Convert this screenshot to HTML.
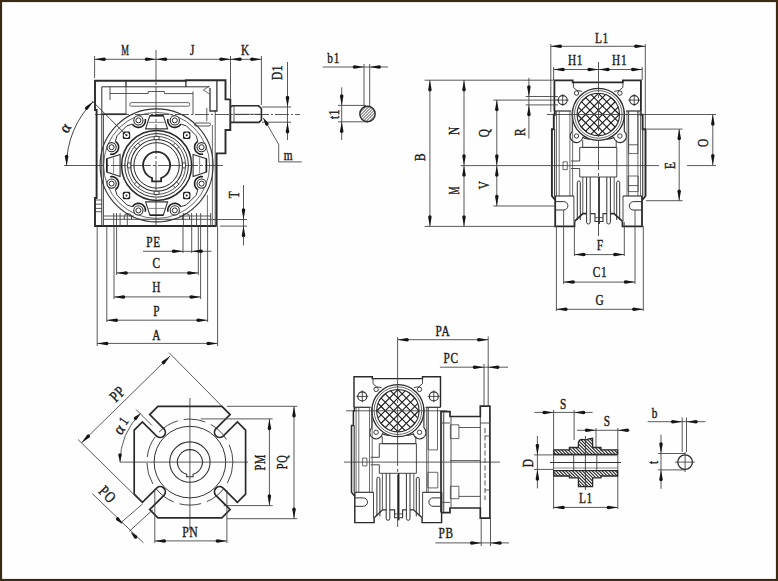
<!DOCTYPE html>
<html><head><meta charset="utf-8"><style>
html,body{margin:0;padding:0;background:#fff;}
svg{display:block;}
</style></head><body>
<svg width="778" height="581" viewBox="0 0 778 581">
<rect x="0" y="0" width="778" height="581" fill="#fefefe"/>
<line x1="156.0" y1="50.0" x2="156.0" y2="227.0" stroke="#3c3c3c" stroke-width="0.85" stroke-dasharray="30,2,3,2"/>
<line x1="64.0" y1="165.5" x2="223.0" y2="165.5" stroke="#3c3c3c" stroke-width="0.85" stroke-dasharray="40,2,3,2"/>
<line x1="95.0" y1="114.5" x2="300.0" y2="114.5" stroke="#3c3c3c" stroke-width="0.85" stroke-dasharray="14,2,2,2"/>
<polyline points="216.6,226.0 216.6,153.4 225.5,153.4 225.5,130.0 230.3,130.0 230.3,99.4 225.5,99.4 225.5,80.2 185.9,80.2 185.9,80.8 95.0,80.8 95.0,110.0 96.6,110.0 96.6,198.0 95.0,198.0 95.0,226.0 216.6,226.0" fill="none" stroke="#2a2a2a" stroke-width="1.9" stroke-linejoin="miter"/>
<line x1="185.9" y1="80.5" x2="185.9" y2="87.0" stroke="#2a2a2a" stroke-width="1.3"/>
<line x1="126.0" y1="80.5" x2="126.0" y2="87.0" stroke="#2a2a2a" stroke-width="1.3"/>
<polyline points="101.8,226.0 101.8,86.8 209.5,86.8" fill="none" stroke="#333" stroke-width="1.0" stroke-linejoin="miter"/>
<polyline points="216.9,80.5 216.9,111.0 210.0,111.0 210.0,88.0" fill="none" stroke="#333" stroke-width="1.3" stroke-linejoin="miter"/>
<line x1="110.0" y1="86.8" x2="110.0" y2="100.0" stroke="#3c3c3c" stroke-width="0.9"/>
<polyline points="110.0,93.5 148.2,93.5 148.2,91.5 164.4,91.5 164.4,93.6 193.0,93.6" fill="none" stroke="#444" stroke-width="0.9" stroke-linejoin="miter"/>
<line x1="193.0" y1="91.5" x2="193.0" y2="114.6" stroke="#3c3c3c" stroke-width="0.85"/>
<line x1="126.0" y1="86.8" x2="126.0" y2="114.2" stroke="#3c3c3c" stroke-width="0.85"/>
<path d="M131.5,102.6 L188,102.6 A1.8,1.8 0 0 1 188,106.2 L131.5,106.2 A1.8,1.8 0 0 1 131.5,102.6 Z" fill="none" stroke="#444" stroke-width="0.8"/>
<polyline points="209.5,86.0 203.5,90.0 209.5,94.0" fill="none" stroke="#444" stroke-width="0.8" stroke-linejoin="miter"/>
<line x1="103.5" y1="114.0" x2="103.5" y2="226.0" stroke="#3c3c3c" stroke-width="0.85"/>
<line x1="215.2" y1="110.0" x2="215.2" y2="226.0" stroke="#3c3c3c" stroke-width="0.85"/>
<line x1="212.4" y1="125.0" x2="212.4" y2="226.0" stroke="#555" stroke-width="0.85"/>
<line x1="207.4" y1="195.0" x2="207.4" y2="226.0" stroke="#555" stroke-width="0.85"/>
<line x1="206.8" y1="108.0" x2="206.8" y2="121.2" stroke="#3c3c3c" stroke-width="0.85"/>
<line x1="101.8" y1="114.2" x2="126.0" y2="114.2" stroke="#333" stroke-width="1.8"/>
<line x1="95.0" y1="200.0" x2="102.0" y2="200.0" stroke="#3c3c3c" stroke-width="0.85"/>
<line x1="95.0" y1="204.2" x2="102.0" y2="204.2" stroke="#3c3c3c" stroke-width="0.85"/>
<line x1="95.0" y1="208.4" x2="102.0" y2="208.4" stroke="#3c3c3c" stroke-width="0.85"/>
<line x1="95.0" y1="211.7" x2="102.0" y2="211.7" stroke="#3c3c3c" stroke-width="0.85"/>
<line x1="127.3" y1="219.3" x2="186.0" y2="219.3" stroke="#333" stroke-width="0.9"/>
<line x1="103.5" y1="219.3" x2="127.3" y2="219.3" stroke="#3c3c3c" stroke-width="0.85"/>
<line x1="186.0" y1="219.3" x2="212.0" y2="219.3" stroke="#3c3c3c" stroke-width="0.85"/>
<path d="M124.3,219.3 L124.3,216.5 Q124.3,213.7 127.9,213.7 Q131.5,213.7 131.5,216.5 L131.5,219.3" fill="none" stroke="#333" stroke-width="0.9"/>
<path d="M182.4,219.3 L182.4,216.5 Q182.4,213.7 186,213.7 Q189.5,213.7 189.5,216.5 L189.5,219.3" fill="none" stroke="#333" stroke-width="0.9"/>
<line x1="113.7" y1="213.0" x2="113.7" y2="226.0" stroke="#3c3c3c" stroke-width="0.85"/>
<line x1="116.5" y1="213.0" x2="116.5" y2="226.0" stroke="#3c3c3c" stroke-width="0.85"/>
<line x1="120.1" y1="213.0" x2="120.1" y2="226.0" stroke="#3c3c3c" stroke-width="0.85"/>
<line x1="127.3" y1="213.0" x2="127.3" y2="226.0" stroke="#3c3c3c" stroke-width="0.85"/>
<line x1="183.4" y1="213.0" x2="183.4" y2="226.0" stroke="#3c3c3c" stroke-width="0.85"/>
<line x1="191.6" y1="213.0" x2="191.6" y2="226.0" stroke="#3c3c3c" stroke-width="0.85"/>
<line x1="196.5" y1="213.0" x2="196.5" y2="226.0" stroke="#3c3c3c" stroke-width="0.85"/>
<line x1="200.7" y1="213.0" x2="200.7" y2="226.0" stroke="#3c3c3c" stroke-width="0.85"/>
<line x1="210.7" y1="213.0" x2="210.7" y2="226.0" stroke="#3c3c3c" stroke-width="0.85"/>
<line x1="104.0" y1="216.0" x2="134.0" y2="216.0" stroke="#3c3c3c" stroke-width="0.85"/>
<line x1="179.0" y1="216.0" x2="211.0" y2="216.0" stroke="#3c3c3c" stroke-width="0.85"/>
<path d="M196,123 L209,123 A1.5,1.5 0 0 1 209,126 L196,126 A1.5,1.5 0 0 1 196,123 Z" fill="none" stroke="#444" stroke-width="0.9"/>
<polyline points="230.3,107.2 232.4,105.8 258.5,105.8 261.4,108.5 261.4,120.0 259.0,122.4 230.3,122.4" fill="none" stroke="#2a2a2a" stroke-width="1.6" stroke-linejoin="miter"/>
<line x1="234.0" y1="106.0" x2="234.0" y2="122.4" stroke="#3c3c3c" stroke-width="0.85"/>
<line x1="234.0" y1="114.3" x2="261.0" y2="114.3" stroke="#3c3c3c" stroke-width="0.85"/>
<circle cx="156.6" cy="165.4" r="56.5" fill="none" stroke="#333" stroke-width="1.1"/>
<circle cx="156.6" cy="165.4" r="53.0" fill="none" stroke="#444" stroke-width="0.8"/>
<circle cx="156.6" cy="165.4" r="35.0" fill="none" stroke="#2a2a2a" stroke-width="1.5"/>
<circle cx="156.6" cy="165.4" r="31.8" fill="none" stroke="#2a2a2a" stroke-width="1.0"/>
<circle cx="156.6" cy="165.4" r="29.0" fill="none" stroke="#2a2a2a" stroke-width="0.8"/>
<circle cx="156.6" cy="165.4" r="25.9" fill="none" stroke="#2a2a2a" stroke-width="1.1"/>
<circle cx="156.6" cy="165.4" r="22.7" fill="none" stroke="#2a2a2a" stroke-width="1.0"/>
<polygon points="182.5,162.9 185.6,162.9 185.6,167.9 182.5,167.9" fill="#fff" stroke="#333" stroke-width="0.9" stroke-linejoin="miter"/>
<polygon points="176.7,181.9 178.9,184.1 175.3,187.7 173.1,185.5" fill="#fff" stroke="#333" stroke-width="0.9" stroke-linejoin="miter"/>
<polygon points="159.1,191.3 159.1,194.4 154.1,194.4 154.1,191.3" fill="#fff" stroke="#333" stroke-width="0.9" stroke-linejoin="miter"/>
<polygon points="140.1,185.5 137.9,187.7 134.3,184.1 136.5,181.9" fill="#fff" stroke="#333" stroke-width="0.9" stroke-linejoin="miter"/>
<polygon points="130.7,167.9 127.6,167.9 127.6,162.9 130.7,162.9" fill="#fff" stroke="#333" stroke-width="0.9" stroke-linejoin="miter"/>
<polygon points="136.5,148.9 134.3,146.7 137.9,143.1 140.1,145.3" fill="#fff" stroke="#333" stroke-width="0.9" stroke-linejoin="miter"/>
<polygon points="154.1,139.5 154.1,136.4 159.1,136.4 159.1,139.5" fill="#fff" stroke="#333" stroke-width="0.9" stroke-linejoin="miter"/>
<polygon points="173.1,145.3 175.3,143.1 178.9,146.7 176.7,148.9" fill="#fff" stroke="#333" stroke-width="0.9" stroke-linejoin="miter"/>
<path d="M152.1,178.1 A13.5,13.5 0 1 1 161.1,178.1 L161.1,181.4 L152.1,181.4 Z" fill="none" stroke="#2a2a2a" stroke-width="1.8"/>
<polygon points="145.6,128.9 149.9,115.6 163.3,115.6 167.6,128.9" fill="none" stroke="#333" stroke-width="1.1" stroke-linejoin="miter"/>
<polyline points="148.6,122.4 164.6,122.4" fill="none" stroke="#555" stroke-width="0.7" stroke-linejoin="miter"/>
<line x1="149.9" y1="115.6" x2="163.3" y2="115.6" stroke="#222" stroke-width="1.6"/>
<polygon points="193.1,154.4 206.4,158.7 206.4,172.1 193.1,176.4" fill="none" stroke="#333" stroke-width="1.1" stroke-linejoin="miter"/>
<polyline points="199.6,157.4 199.6,173.4" fill="none" stroke="#555" stroke-width="0.7" stroke-linejoin="miter"/>
<line x1="206.4" y1="158.7" x2="206.4" y2="172.1" stroke="#222" stroke-width="1.6"/>
<polygon points="167.6,201.9 163.3,215.2 149.9,215.2 145.6,201.9" fill="none" stroke="#333" stroke-width="1.1" stroke-linejoin="miter"/>
<polyline points="164.6,208.4 148.6,208.4" fill="none" stroke="#555" stroke-width="0.7" stroke-linejoin="miter"/>
<line x1="163.3" y1="215.2" x2="149.9" y2="215.2" stroke="#222" stroke-width="1.6"/>
<polygon points="120.1,176.4 106.8,172.1 106.8,158.7 120.1,154.4" fill="none" stroke="#333" stroke-width="1.1" stroke-linejoin="miter"/>
<polyline points="113.6,173.4 113.6,157.4" fill="none" stroke="#555" stroke-width="0.7" stroke-linejoin="miter"/>
<line x1="106.8" y1="172.1" x2="106.8" y2="158.7" stroke="#222" stroke-width="1.6"/>
<polyline points="145.3,119.0 145.4,120.2 145.4,121.4 145.1,122.6 144.6,123.7 143.9,124.7 143.1,125.6 142.1,126.4 141.1,126.9 139.9,127.3 138.7,127.4 137.5,127.4 136.3,127.1 135.1,126.6 134.1,125.9 133.2,125.1 132.5,124.1" fill="none" stroke="#1e1e1e" stroke-width="1.6" stroke-linejoin="miter"/>
<polyline points="180.7,124.1 180.0,125.1 179.1,125.9 178.1,126.6 176.9,127.1 175.7,127.4 174.5,127.4 173.3,127.3 172.1,126.9 171.1,126.4 170.1,125.6 169.3,124.7 168.6,123.7 168.1,122.6 167.8,121.4 167.8,120.2 167.9,119.0" fill="none" stroke="#1e1e1e" stroke-width="1.6" stroke-linejoin="miter"/>
<polyline points="203.0,154.1 201.8,154.2 200.6,154.2 199.4,153.9 198.3,153.4 197.3,152.7 196.4,151.9 195.6,150.9 195.1,149.9 194.7,148.7 194.6,147.5 194.6,146.3 194.9,145.1 195.4,143.9 196.1,142.9 196.9,142.0 197.9,141.3" fill="none" stroke="#1e1e1e" stroke-width="1.6" stroke-linejoin="miter"/>
<polyline points="197.9,189.5 196.9,188.8 196.1,187.9 195.4,186.9 194.9,185.7 194.6,184.5 194.6,183.3 194.7,182.1 195.1,180.9 195.6,179.9 196.4,178.9 197.3,178.1 198.3,177.4 199.4,176.9 200.6,176.6 201.8,176.6 203.0,176.7" fill="none" stroke="#1e1e1e" stroke-width="1.6" stroke-linejoin="miter"/>
<polyline points="167.9,211.8 167.8,210.6 167.8,209.4 168.1,208.2 168.6,207.1 169.3,206.1 170.1,205.2 171.1,204.4 172.1,203.9 173.3,203.5 174.5,203.4 175.7,203.4 176.9,203.7 178.1,204.2 179.1,204.9 180.0,205.7 180.7,206.7" fill="none" stroke="#1e1e1e" stroke-width="1.6" stroke-linejoin="miter"/>
<polyline points="132.5,206.7 133.2,205.7 134.1,204.9 135.1,204.2 136.3,203.7 137.5,203.4 138.7,203.4 139.9,203.5 141.1,203.9 142.1,204.4 143.1,205.2 143.9,206.1 144.6,207.1 145.1,208.2 145.4,209.4 145.4,210.6 145.3,211.8" fill="none" stroke="#1e1e1e" stroke-width="1.6" stroke-linejoin="miter"/>
<polyline points="110.2,176.7 111.4,176.6 112.6,176.6 113.8,176.9 114.9,177.4 115.9,178.1 116.8,178.9 117.6,179.9 118.1,180.9 118.5,182.1 118.6,183.3 118.6,184.5 118.3,185.7 117.8,186.9 117.1,187.9 116.3,188.8 115.3,189.5" fill="none" stroke="#1e1e1e" stroke-width="1.6" stroke-linejoin="miter"/>
<polyline points="115.3,141.3 116.3,142.0 117.1,142.9 117.8,143.9 118.3,145.1 118.6,146.3 118.6,147.5 118.5,148.7 118.1,149.9 117.6,150.9 116.8,151.9 115.9,152.7 114.9,153.4 113.8,153.9 112.6,154.2 111.4,154.2 110.2,154.1" fill="none" stroke="#1e1e1e" stroke-width="1.6" stroke-linejoin="miter"/>
<polyline points="180.7,124.1 186.4,125.9 196.1,135.6 197.9,141.3" fill="none" stroke="#333" stroke-width="1.0" stroke-linejoin="miter"/>
<polyline points="197.9,189.5 196.1,195.2 186.4,204.9 180.7,206.7" fill="none" stroke="#333" stroke-width="1.0" stroke-linejoin="miter"/>
<polyline points="132.5,206.7 126.8,204.9 117.1,195.2 115.3,189.5" fill="none" stroke="#333" stroke-width="1.0" stroke-linejoin="miter"/>
<polyline points="115.3,141.3 117.1,135.6 126.8,125.9 132.5,124.1" fill="none" stroke="#333" stroke-width="1.0" stroke-linejoin="miter"/>
<circle cx="138.4" cy="120.4" r="4.6" fill="#fff" stroke="#2a2a2a" stroke-width="1.1"/>
<circle cx="138.4" cy="120.4" r="2.5" fill="none" stroke="#2a2a2a" stroke-width="1.0"/>
<circle cx="174.8" cy="120.4" r="4.6" fill="#fff" stroke="#2a2a2a" stroke-width="1.1"/>
<circle cx="174.8" cy="120.4" r="2.5" fill="none" stroke="#2a2a2a" stroke-width="1.0"/>
<circle cx="201.6" cy="147.2" r="4.6" fill="#fff" stroke="#2a2a2a" stroke-width="1.1"/>
<circle cx="201.6" cy="147.2" r="2.5" fill="none" stroke="#2a2a2a" stroke-width="1.0"/>
<circle cx="201.6" cy="183.6" r="4.6" fill="#fff" stroke="#2a2a2a" stroke-width="1.1"/>
<circle cx="201.6" cy="183.6" r="2.5" fill="none" stroke="#2a2a2a" stroke-width="1.0"/>
<circle cx="174.8" cy="210.4" r="4.6" fill="#fff" stroke="#2a2a2a" stroke-width="1.1"/>
<circle cx="174.8" cy="210.4" r="2.5" fill="none" stroke="#2a2a2a" stroke-width="1.0"/>
<circle cx="138.4" cy="210.4" r="4.6" fill="#fff" stroke="#2a2a2a" stroke-width="1.1"/>
<circle cx="138.4" cy="210.4" r="2.5" fill="none" stroke="#2a2a2a" stroke-width="1.0"/>
<circle cx="111.6" cy="183.6" r="4.6" fill="#fff" stroke="#2a2a2a" stroke-width="1.1"/>
<circle cx="111.6" cy="183.6" r="2.5" fill="none" stroke="#2a2a2a" stroke-width="1.0"/>
<circle cx="111.6" cy="147.2" r="4.6" fill="#fff" stroke="#2a2a2a" stroke-width="1.1"/>
<circle cx="111.6" cy="147.2" r="2.5" fill="none" stroke="#2a2a2a" stroke-width="1.0"/>
<rect x="122.8" y="131.6" width="7.4" height="7.4" rx="1.5" fill="#1e1e1e"/>
<circle cx="126.5" cy="135.3" r="2.7" fill="#fff" stroke="#fff" stroke-width="0.0"/>
<circle cx="126.5" cy="135.3" r="1.0" fill="#222" stroke="#222" stroke-width="0"/>
<rect x="183.0" y="131.6" width="7.4" height="7.4" rx="1.5" fill="#1e1e1e"/>
<circle cx="186.7" cy="135.3" r="2.7" fill="#fff" stroke="#fff" stroke-width="0.0"/>
<circle cx="186.7" cy="135.3" r="1.0" fill="#222" stroke="#222" stroke-width="0"/>
<rect x="122.8" y="191.8" width="7.4" height="7.4" rx="1.5" fill="#1e1e1e"/>
<circle cx="126.5" cy="195.5" r="2.7" fill="#fff" stroke="#fff" stroke-width="0.0"/>
<circle cx="126.5" cy="195.5" r="1.0" fill="#222" stroke="#222" stroke-width="0"/>
<rect x="183.0" y="191.8" width="7.4" height="7.4" rx="1.5" fill="#1e1e1e"/>
<circle cx="186.7" cy="195.5" r="2.7" fill="#fff" stroke="#fff" stroke-width="0.0"/>
<circle cx="186.7" cy="195.5" r="1.0" fill="#222" stroke="#222" stroke-width="0"/>
<line x1="92.0" y1="100.8" x2="126.6" y2="135.4" stroke="#333" stroke-width="0.9"/>
<path d="M93.0,101.8 A90,90 0 0 0 66.6,165.4" fill="none" stroke="#333" stroke-width="0.9"/>
<path d="M92.96,101.76 L87.83,109.36 A1.75,1.75 0 0 1 85.36,106.89 Z" fill="#151515"/>
<path d="M66.60,165.40 L64.85,156.40 A1.75,1.75 0 0 1 68.35,156.40 Z" fill="#151515"/>
<text transform="translate(65.2,127.5) rotate(-60) scale(0.95,1)" x="0" y="5.3" text-anchor="middle" letter-spacing="0.9" font-family="Liberation Serif" font-size="16" font-weight="normal" fill="#1a1a1a" stroke="#1a1a1a" stroke-width="0.4">&#945;</text>
<line x1="94.6" y1="56.0" x2="94.6" y2="78.0" stroke="#3c3c3c" stroke-width="0.85"/>
<line x1="230.5" y1="56.0" x2="230.5" y2="98.0" stroke="#3c3c3c" stroke-width="0.85"/>
<line x1="261.4" y1="56.0" x2="261.4" y2="105.0" stroke="#3c3c3c" stroke-width="0.85"/>
<line x1="94.6" y1="59.3" x2="261.4" y2="59.3" stroke="#3c3c3c" stroke-width="0.85"/>
<path d="M94.60,59.30 L104.10,57.55 A1.75,1.75 0 0 1 104.10,61.05 Z" fill="#151515"/>
<path d="M156.00,59.30 L146.50,61.05 A1.75,1.75 0 0 1 146.50,57.55 Z" fill="#151515"/>
<path d="M156.00,59.30 L165.50,57.55 A1.75,1.75 0 0 1 165.50,61.05 Z" fill="#151515"/>
<path d="M230.50,59.30 L221.00,61.05 A1.75,1.75 0 0 1 221.00,57.55 Z" fill="#151515"/>
<path d="M230.50,59.30 L240.00,57.55 A1.75,1.75 0 0 1 240.00,61.05 Z" fill="#151515"/>
<path d="M261.40,59.30 L251.90,61.05 A1.75,1.75 0 0 1 251.90,57.55 Z" fill="#151515"/>
<text transform="translate(125.5,50.0) rotate(0) scale(0.6,1)" x="0" y="4.8" text-anchor="middle" letter-spacing="0.9" font-family="Liberation Serif" font-size="14.5" font-weight="normal" fill="#1a1a1a" stroke="#1a1a1a" stroke-width="0.4">M</text>
<text transform="translate(192.5,50.0) rotate(0) scale(0.78,1)" x="0" y="4.8" text-anchor="middle" letter-spacing="0.9" font-family="Liberation Serif" font-size="14.5" font-weight="normal" fill="#1a1a1a" stroke="#1a1a1a" stroke-width="0.4">J</text>
<text transform="translate(245.5,50.0) rotate(0) scale(0.78,1)" x="0" y="4.8" text-anchor="middle" letter-spacing="0.9" font-family="Liberation Serif" font-size="14.5" font-weight="normal" fill="#1a1a1a" stroke="#1a1a1a" stroke-width="0.4">K</text>
<line x1="287.5" y1="62.0" x2="287.5" y2="140.0" stroke="#3c3c3c" stroke-width="0.85"/>
<line x1="262.0" y1="107.0" x2="291.0" y2="107.0" stroke="#3c3c3c" stroke-width="0.85"/>
<line x1="262.0" y1="122.2" x2="291.0" y2="122.2" stroke="#3c3c3c" stroke-width="0.85"/>
<path d="M287.50,107.00 L285.75,97.50 A1.75,1.75 0 0 1 289.25,97.50 Z" fill="#151515"/>
<path d="M287.50,122.20 L289.25,131.70 A1.75,1.75 0 0 1 285.75,131.70 Z" fill="#151515"/>
<text transform="translate(277.5,72.5) rotate(-90) scale(0.78,1)" x="0" y="4.8" text-anchor="middle" letter-spacing="0.9" font-family="Liberation Serif" font-size="14.5" font-weight="normal" fill="#1a1a1a" stroke="#1a1a1a" stroke-width="0.4">D1</text>
<polyline points="263.3,117.9 278.7,144.4 278.7,161.9 301.8,161.9" fill="none" stroke="#333" stroke-width="0.8" stroke-linejoin="miter"/>
<path d="M263.30,117.90 L268.37,123.05 A1.8,1.8 0 0 1 265.26,124.86 Z" fill="#151515"/>
<text transform="translate(288.5,155.5) rotate(0) scale(0.78,1)" x="0" y="4.8" text-anchor="middle" letter-spacing="0.9" font-family="Liberation Serif" font-size="14.5" font-weight="normal" fill="#1a1a1a" stroke="#1a1a1a" stroke-width="0.4">m</text>
<line x1="243.5" y1="185.0" x2="243.5" y2="245.4" stroke="#3c3c3c" stroke-width="0.85"/>
<line x1="213.0" y1="219.5" x2="247.0" y2="219.5" stroke="#3c3c3c" stroke-width="0.85"/>
<line x1="220.0" y1="226.1" x2="247.0" y2="226.1" stroke="#3c3c3c" stroke-width="0.85"/>
<path d="M243.50,219.50 L241.75,210.00 A1.75,1.75 0 0 1 245.25,210.00 Z" fill="#151515"/>
<path d="M243.50,226.10 L245.25,235.60 A1.75,1.75 0 0 1 241.75,235.60 Z" fill="#151515"/>
<text transform="translate(234.0,194.5) rotate(-90) scale(0.78,1)" x="0" y="4.8" text-anchor="middle" letter-spacing="0.9" font-family="Liberation Serif" font-size="14.5" font-weight="normal" fill="#1a1a1a" stroke="#1a1a1a" stroke-width="0.4">T</text>
<line x1="97.2" y1="226.0" x2="97.2" y2="346.0" stroke="#3c3c3c" stroke-width="0.85"/>
<line x1="106.8" y1="226.0" x2="106.8" y2="322.0" stroke="#3c3c3c" stroke-width="0.85"/>
<line x1="114.0" y1="226.0" x2="114.0" y2="299.0" stroke="#3c3c3c" stroke-width="0.85"/>
<line x1="116.6" y1="226.0" x2="116.6" y2="275.0" stroke="#3c3c3c" stroke-width="0.85"/>
<line x1="183.0" y1="226.0" x2="183.0" y2="253.0" stroke="#3c3c3c" stroke-width="0.85"/>
<line x1="191.7" y1="226.0" x2="191.7" y2="253.0" stroke="#3c3c3c" stroke-width="0.85"/>
<line x1="198.3" y1="226.0" x2="198.3" y2="275.0" stroke="#3c3c3c" stroke-width="0.85"/>
<line x1="200.6" y1="226.0" x2="200.6" y2="299.0" stroke="#3c3c3c" stroke-width="0.85"/>
<line x1="207.6" y1="226.0" x2="207.6" y2="322.0" stroke="#3c3c3c" stroke-width="0.85"/>
<line x1="217.6" y1="226.0" x2="217.6" y2="346.0" stroke="#3c3c3c" stroke-width="0.85"/>
<line x1="143.0" y1="251.3" x2="211.4" y2="251.3" stroke="#3c3c3c" stroke-width="0.85"/>
<path d="M183.00,251.30 L173.50,253.05 A1.75,1.75 0 0 1 173.50,249.55 Z" fill="#151515"/>
<path d="M191.70,251.30 L201.20,249.55 A1.75,1.75 0 0 1 201.20,253.05 Z" fill="#151515"/>
<text transform="translate(153.5,242.3) rotate(0) scale(0.78,1)" x="0" y="4.8" text-anchor="middle" letter-spacing="0.9" font-family="Liberation Serif" font-size="14.5" font-weight="normal" fill="#1a1a1a" stroke="#1a1a1a" stroke-width="0.4">PE</text>
<line x1="116.6" y1="272.9" x2="198.3" y2="272.9" stroke="#3c3c3c" stroke-width="0.85"/>
<path d="M116.60,272.90 L126.10,271.15 A1.75,1.75 0 0 1 126.10,274.65 Z" fill="#151515"/>
<path d="M198.30,272.90 L188.80,274.65 A1.75,1.75 0 0 1 188.80,271.15 Z" fill="#151515"/>
<text transform="translate(156.7,263.3) rotate(0) scale(0.78,1)" x="0" y="4.8" text-anchor="middle" letter-spacing="0.9" font-family="Liberation Serif" font-size="14.5" font-weight="normal" fill="#1a1a1a" stroke="#1a1a1a" stroke-width="0.4">C</text>
<line x1="114.0" y1="296.9" x2="200.6" y2="296.9" stroke="#3c3c3c" stroke-width="0.85"/>
<path d="M114.00,296.90 L123.50,295.15 A1.75,1.75 0 0 1 123.50,298.65 Z" fill="#151515"/>
<path d="M200.60,296.90 L191.10,298.65 A1.75,1.75 0 0 1 191.10,295.15 Z" fill="#151515"/>
<text transform="translate(156.7,286.8) rotate(0) scale(0.78,1)" x="0" y="4.8" text-anchor="middle" letter-spacing="0.9" font-family="Liberation Serif" font-size="14.5" font-weight="normal" fill="#1a1a1a" stroke="#1a1a1a" stroke-width="0.4">H</text>
<line x1="106.8" y1="320.2" x2="207.6" y2="320.2" stroke="#3c3c3c" stroke-width="0.85"/>
<path d="M106.80,320.20 L116.30,318.45 A1.75,1.75 0 0 1 116.30,321.95 Z" fill="#151515"/>
<path d="M207.60,320.20 L198.10,321.95 A1.75,1.75 0 0 1 198.10,318.45 Z" fill="#151515"/>
<text transform="translate(156.7,311.0) rotate(0) scale(0.78,1)" x="0" y="4.8" text-anchor="middle" letter-spacing="0.9" font-family="Liberation Serif" font-size="14.5" font-weight="normal" fill="#1a1a1a" stroke="#1a1a1a" stroke-width="0.4">P</text>
<line x1="97.2" y1="343.4" x2="217.6" y2="343.4" stroke="#3c3c3c" stroke-width="0.85"/>
<path d="M97.20,343.40 L106.70,341.65 A1.75,1.75 0 0 1 106.70,345.15 Z" fill="#151515"/>
<path d="M217.60,343.40 L208.10,345.15 A1.75,1.75 0 0 1 208.10,341.65 Z" fill="#151515"/>
<text transform="translate(156.7,335.0) rotate(0) scale(0.78,1)" x="0" y="4.8" text-anchor="middle" letter-spacing="0.9" font-family="Liberation Serif" font-size="14.5" font-weight="normal" fill="#1a1a1a" stroke="#1a1a1a" stroke-width="0.4">A</text>
<line x1="322.7" y1="67.0" x2="388.0" y2="67.0" stroke="#3c3c3c" stroke-width="0.85"/>
<path d="M364.00,67.00 L354.50,68.75 A1.75,1.75 0 0 1 354.50,65.25 Z" fill="#151515"/>
<path d="M369.70,67.00 L379.20,65.25 A1.75,1.75 0 0 1 379.20,68.75 Z" fill="#151515"/>
<line x1="364.0" y1="64.0" x2="364.0" y2="106.0" stroke="#3c3c3c" stroke-width="0.85"/>
<line x1="369.7" y1="64.0" x2="369.7" y2="106.0" stroke="#3c3c3c" stroke-width="0.85"/>
<text transform="translate(333.7,58.5) rotate(0) scale(0.78,1)" x="0" y="4.8" text-anchor="middle" letter-spacing="0.9" font-family="Liberation Serif" font-size="14.5" font-weight="normal" fill="#1a1a1a" stroke="#1a1a1a" stroke-width="0.4">b1</text>
<line x1="341.7" y1="87.3" x2="341.7" y2="140.0" stroke="#3c3c3c" stroke-width="0.85"/>
<path d="M341.70,105.40 L339.95,95.90 A1.75,1.75 0 0 1 343.45,95.90 Z" fill="#151515"/>
<path d="M341.70,121.80 L343.45,131.30 A1.75,1.75 0 0 1 339.95,131.30 Z" fill="#151515"/>
<line x1="338.0" y1="105.4" x2="366.0" y2="105.4" stroke="#3c3c3c" stroke-width="0.85"/>
<line x1="338.0" y1="121.8" x2="368.0" y2="121.8" stroke="#3c3c3c" stroke-width="0.85"/>
<text transform="translate(334.0,114.0) rotate(-90) scale(0.78,1)" x="0" y="4.8" text-anchor="middle" letter-spacing="0.9" font-family="Liberation Serif" font-size="14.5" font-weight="normal" fill="#1a1a1a" stroke="#1a1a1a" stroke-width="0.4">t1</text>
<clipPath id="cpb1"><circle cx="367.5" cy="114" r="7.7"/></clipPath>
<g clip-path="url(#cpb1)"><line x1="339.5" y1="124" x2="359.5" y2="104" stroke="#333" stroke-width="0.9"/><line x1="342.5" y1="124" x2="362.5" y2="104" stroke="#333" stroke-width="0.9"/><line x1="345.5" y1="124" x2="365.5" y2="104" stroke="#333" stroke-width="0.9"/><line x1="348.5" y1="124" x2="368.5" y2="104" stroke="#333" stroke-width="0.9"/><line x1="351.5" y1="124" x2="371.5" y2="104" stroke="#333" stroke-width="0.9"/><line x1="354.5" y1="124" x2="374.5" y2="104" stroke="#333" stroke-width="0.9"/><line x1="357.5" y1="124" x2="377.5" y2="104" stroke="#333" stroke-width="0.9"/><line x1="360.5" y1="124" x2="380.5" y2="104" stroke="#333" stroke-width="0.9"/><line x1="363.5" y1="124" x2="383.5" y2="104" stroke="#333" stroke-width="0.9"/><line x1="366.5" y1="124" x2="386.5" y2="104" stroke="#333" stroke-width="0.9"/><line x1="369.5" y1="124" x2="389.5" y2="104" stroke="#333" stroke-width="0.9"/><line x1="372.5" y1="124" x2="392.5" y2="104" stroke="#333" stroke-width="0.9"/><line x1="375.5" y1="124" x2="395.5" y2="104" stroke="#333" stroke-width="0.9"/></g>
<circle cx="367.5" cy="114.0" r="7.7" fill="none" stroke="#2a2a2a" stroke-width="1.4"/>
<polyline points="554.4,111.0 554.4,80.4 572.7,80.4 572.7,82.3 622.9,82.3 622.9,80.4 640.9,80.4 640.9,111.0" fill="none" stroke="#2a2a2a" stroke-width="1.8" stroke-linejoin="miter"/>
<line x1="554.4" y1="111.0" x2="571.0" y2="111.0" stroke="#2a2a2a" stroke-width="1.2"/>
<line x1="626.0" y1="111.0" x2="640.9" y2="111.0" stroke="#2a2a2a" stroke-width="1.2"/>
<path d="M573.4,82.3 L573.4,87.4 Q576,91.4 582,91.4" fill="none" stroke="#333" stroke-width="0.9"/>
<path d="M622.9,82.3 L622.9,87.4 Q620,91.4 614.2,91.4" fill="none" stroke="#333" stroke-width="0.9"/>
<circle cx="576.5" cy="93.1" r="2.2" fill="none" stroke="#2a2a2a" stroke-width="0.9"/>
<circle cx="619.9" cy="93.1" r="2.2" fill="none" stroke="#2a2a2a" stroke-width="0.9"/>
<circle cx="562.7" cy="100.1" r="4.5" fill="none" stroke="#2a2a2a" stroke-width="1.1"/>
<line x1="556.7" y1="100.1" x2="568.7" y2="100.1" stroke="#333" stroke-width="0.85"/>
<line x1="562.7" y1="94.0" x2="562.7" y2="106.0" stroke="#333" stroke-width="0.85"/>
<circle cx="634.2" cy="100.1" r="4.5" fill="none" stroke="#2a2a2a" stroke-width="1.1"/>
<line x1="628.2" y1="100.1" x2="640.2" y2="100.1" stroke="#333" stroke-width="0.85"/>
<line x1="634.2" y1="94.0" x2="634.2" y2="106.0" stroke="#333" stroke-width="0.85"/>
<path d="M572.3,111.0 L572.3,131.4 A6.4,6.4 0 1 0 582.8,137.5 Q585.5,139.2 590.0,139.2" fill="none" stroke="#2a2a2a" stroke-width="1.1"/>
<path d="M624.3,111.0 L624.3,131.4 A6.4,6.4 0 1 1 613.8,137.5 Q611.1,139.2 606.6,139.2" fill="none" stroke="#2a2a2a" stroke-width="1.1"/>
<circle cx="576.5" cy="136.0" r="2.2" fill="none" stroke="#2a2a2a" stroke-width="0.9"/>
<circle cx="619.9" cy="136.0" r="2.2" fill="none" stroke="#2a2a2a" stroke-width="0.9"/>
<circle cx="598.3" cy="114.4" r="26.0" fill="#fff" stroke="#2a2a2a" stroke-width="1.3"/>
<circle cx="598.3" cy="114.4" r="23.8" fill="none" stroke="#444" stroke-width="0.8"/>
<clipPath id="cp00"><circle cx="598.3" cy="114.4" r="21.3"/></clipPath>
<g clip-path="url(#cp00)"><line x1="522.1" y1="144.4" x2="582.1" y2="84.4" stroke="#1a1a1a" stroke-width="1.1"/><line x1="522.1" y1="84.4" x2="582.1" y2="144.4" stroke="#1a1a1a" stroke-width="1.1"/><line x1="530.5" y1="144.4" x2="590.5" y2="84.4" stroke="#1a1a1a" stroke-width="1.1"/><line x1="530.5" y1="84.4" x2="590.5" y2="144.4" stroke="#1a1a1a" stroke-width="1.1"/><line x1="538.9" y1="144.4" x2="598.9" y2="84.4" stroke="#1a1a1a" stroke-width="1.1"/><line x1="538.9" y1="84.4" x2="598.9" y2="144.4" stroke="#1a1a1a" stroke-width="1.1"/><line x1="547.3" y1="144.4" x2="607.3" y2="84.4" stroke="#1a1a1a" stroke-width="1.1"/><line x1="547.3" y1="84.4" x2="607.3" y2="144.4" stroke="#1a1a1a" stroke-width="1.1"/><line x1="555.7" y1="144.4" x2="615.7" y2="84.4" stroke="#1a1a1a" stroke-width="1.1"/><line x1="555.7" y1="84.4" x2="615.7" y2="144.4" stroke="#1a1a1a" stroke-width="1.1"/><line x1="564.1" y1="144.4" x2="624.1" y2="84.4" stroke="#1a1a1a" stroke-width="1.1"/><line x1="564.1" y1="84.4" x2="624.1" y2="144.4" stroke="#1a1a1a" stroke-width="1.1"/><line x1="572.5" y1="144.4" x2="632.5" y2="84.4" stroke="#1a1a1a" stroke-width="1.1"/><line x1="572.5" y1="84.4" x2="632.5" y2="144.4" stroke="#1a1a1a" stroke-width="1.1"/><line x1="580.9" y1="144.4" x2="640.9" y2="84.4" stroke="#1a1a1a" stroke-width="1.1"/><line x1="580.9" y1="84.4" x2="640.9" y2="144.4" stroke="#1a1a1a" stroke-width="1.1"/><line x1="589.3" y1="144.4" x2="649.3" y2="84.4" stroke="#1a1a1a" stroke-width="1.1"/><line x1="589.3" y1="84.4" x2="649.3" y2="144.4" stroke="#1a1a1a" stroke-width="1.1"/><line x1="597.7" y1="144.4" x2="657.7" y2="84.4" stroke="#1a1a1a" stroke-width="1.1"/><line x1="597.7" y1="84.4" x2="657.7" y2="144.4" stroke="#1a1a1a" stroke-width="1.1"/><line x1="606.1" y1="144.4" x2="666.1" y2="84.4" stroke="#1a1a1a" stroke-width="1.1"/><line x1="606.1" y1="84.4" x2="666.1" y2="144.4" stroke="#1a1a1a" stroke-width="1.1"/><line x1="614.5" y1="144.4" x2="674.5" y2="84.4" stroke="#1a1a1a" stroke-width="1.1"/><line x1="614.5" y1="84.4" x2="674.5" y2="144.4" stroke="#1a1a1a" stroke-width="1.1"/><line x1="622.9" y1="144.4" x2="682.9" y2="84.4" stroke="#1a1a1a" stroke-width="1.1"/><line x1="622.9" y1="84.4" x2="682.9" y2="144.4" stroke="#1a1a1a" stroke-width="1.1"/></g>
<circle cx="598.3" cy="114.4" r="21.2" fill="none" stroke="#2a2a2a" stroke-width="1.1"/>
<polyline points="582.7,140.2 582.7,147.4 616.2,147.4 616.2,140.2" fill="none" stroke="#333" stroke-width="0.9" stroke-linejoin="miter"/>
<polyline points="579.7,147.4 616.8,147.4 616.8,177.0 579.7,177.0 579.7,168.5 571.0,168.5" fill="none" stroke="#333" stroke-width="0.9" stroke-linejoin="miter"/>
<polyline points="571.0,161.0 579.7,161.0 579.7,147.4" fill="none" stroke="#333" stroke-width="0.9" stroke-linejoin="miter"/>
<polygon points="563.0,161.8 567.3,161.8 567.3,169.6 563.0,169.6" fill="none" stroke="#444" stroke-width="0.8" stroke-linejoin="miter"/>
<polyline points="554.8,111.0 554.8,114.8 553.8,114.8 553.8,129.3 551.9,129.3 551.9,196.0 555.2,200.0" fill="none" stroke="#2a2a2a" stroke-width="1.9" stroke-linejoin="miter"/>
<line x1="554.6" y1="129.0" x2="554.6" y2="196.0" stroke="#444" stroke-width="1.2"/>
<line x1="556.5" y1="111.0" x2="556.5" y2="196.0" stroke="#555" stroke-width="0.85"/>
<line x1="559.2" y1="111.0" x2="559.2" y2="196.0" stroke="#555" stroke-width="0.85"/>
<line x1="569.9" y1="111.0" x2="569.9" y2="196.0" stroke="#555" stroke-width="0.85"/>
<line x1="572.6" y1="111.0" x2="572.6" y2="196.0" stroke="#555" stroke-width="0.85"/>
<polyline points="640.7,111.0 640.7,114.8 642.6,114.8 642.6,129.3 645.5,129.3 645.5,196.0 642.2,200.0" fill="none" stroke="#2a2a2a" stroke-width="1.9" stroke-linejoin="miter"/>
<line x1="642.7" y1="129.0" x2="642.7" y2="196.0" stroke="#444" stroke-width="1.2"/>
<line x1="627.0" y1="111.0" x2="627.0" y2="196.0" stroke="#555" stroke-width="0.85"/>
<line x1="628.6" y1="111.0" x2="628.6" y2="196.0" stroke="#555" stroke-width="0.85"/>
<line x1="637.9" y1="111.0" x2="637.9" y2="196.0" stroke="#555" stroke-width="0.85"/>
<line x1="640.5" y1="111.0" x2="640.5" y2="196.0" stroke="#555" stroke-width="0.85"/>
<polyline points="628.6,111.0 628.6,153.6 637.9,153.6 637.9,111.0" fill="none" stroke="#444" stroke-width="0.8" stroke-linejoin="miter"/>
<line x1="628.6" y1="144.8" x2="637.9" y2="144.8" stroke="#3c3c3c" stroke-width="0.85"/>
<polygon points="628.2,176.0 638.2,176.0 638.2,191.6 628.2,191.6" fill="none" stroke="#444" stroke-width="0.8" stroke-linejoin="miter"/>
<line x1="628.2" y1="185.6" x2="638.2" y2="185.6" stroke="#3c3c3c" stroke-width="0.85"/>
<polyline points="555.2,196.0 555.2,226.3 574.5,226.3 574.5,221.4" fill="none" stroke="#2a2a2a" stroke-width="1.8" stroke-linejoin="miter"/>
<polyline points="642.0,196.0 642.0,226.3 622.5,226.3 622.5,221.4" fill="none" stroke="#2a2a2a" stroke-width="1.8" stroke-linejoin="miter"/>
<line x1="555.2" y1="196.0" x2="573.9" y2="196.0" stroke="#2a2a2a" stroke-width="1.1"/>
<line x1="623.0" y1="196.0" x2="642.0" y2="196.0" stroke="#2a2a2a" stroke-width="1.1"/>
<path d="M555.2,201.6 L563.7,201.6 A4.2,4.2 0 0 1 563.7,210 L555.2,210" fill="none" stroke="#333" stroke-width="1.0"/>
<path d="M642,201.6 L633.5,201.6 A4.2,4.2 0 0 0 633.5,210 L642,210" fill="none" stroke="#333" stroke-width="1.0"/>
<path d="M577.3,220.0 L577.3,182.5 A1.50,1.50 0 0 1 580.3,182.5 L580.3,220.0" fill="none" stroke="#333" stroke-width="1.0"/>
<path d="M616.7,220.0 L616.7,182.5 A1.50,1.50 0 0 1 619.7,182.5 L619.7,220.0" fill="none" stroke="#333" stroke-width="1.0"/>
<path d="M586.6,177.0 L586.6,222.2 A1.80,1.80 0 0 0 590.2,222.2 L590.2,177.0" fill="none" stroke="#333" stroke-width="1.0"/>
<path d="M606.8,177.0 L606.8,222.2 A1.80,1.80 0 0 0 610.4,222.2 L610.4,177.0" fill="none" stroke="#333" stroke-width="1.0"/>
<line x1="599.0" y1="177.0" x2="599.0" y2="224.0" stroke="#222" stroke-width="1.7"/>
<line x1="582.8" y1="177.0" x2="582.8" y2="213.6" stroke="#444" stroke-width="0.9"/>
<line x1="614.2" y1="177.0" x2="614.2" y2="213.6" stroke="#444" stroke-width="0.9"/>
<polyline points="574.5,221.4 582.9,213.6 586.6,213.6" fill="none" stroke="#2a2a2a" stroke-width="1.6" stroke-linejoin="miter"/>
<polyline points="610.4,213.6 614.0,213.6 622.5,221.4" fill="none" stroke="#2a2a2a" stroke-width="1.6" stroke-linejoin="miter"/>
<polyline points="590.2,213.6 595.0,213.6 595.0,221.5 603.0,221.5 603.0,213.6 606.8,213.6" fill="none" stroke="#333" stroke-width="1.1" stroke-linejoin="miter"/>
<line x1="595.0" y1="217.6" x2="603.0" y2="217.6" stroke="#3c3c3c" stroke-width="0.85"/>
<line x1="573.9" y1="196.0" x2="573.9" y2="221.4" stroke="#333" stroke-width="0.9"/>
<line x1="623.0" y1="196.0" x2="623.0" y2="221.4" stroke="#333" stroke-width="0.9"/>
<line x1="598.5" y1="62.0" x2="598.5" y2="236.0" stroke="#3c3c3c" stroke-width="0.85" stroke-dasharray="30,3,3,3"/>
<line x1="460.5" y1="165.6" x2="659.0" y2="165.6" stroke="#3c3c3c" stroke-width="0.85"/>
<line x1="687.0" y1="165.6" x2="716.0" y2="165.6" stroke="#3c3c3c" stroke-width="0.85"/>
<line x1="547.0" y1="114.5" x2="716.1" y2="114.5" stroke="#3c3c3c" stroke-width="0.85"/>
<line x1="550.8" y1="44.0" x2="550.8" y2="112.0" stroke="#3c3c3c" stroke-width="0.85"/>
<line x1="645.3" y1="44.0" x2="645.3" y2="129.0" stroke="#3c3c3c" stroke-width="0.85"/>
<line x1="550.8" y1="46.3" x2="645.3" y2="46.3" stroke="#3c3c3c" stroke-width="0.85"/>
<path d="M550.80,46.30 L560.30,44.55 A1.75,1.75 0 0 1 560.30,48.05 Z" fill="#151515"/>
<path d="M645.30,46.30 L635.80,48.05 A1.75,1.75 0 0 1 635.80,44.55 Z" fill="#151515"/>
<text transform="translate(602.0,37.8) rotate(0) scale(0.78,1)" x="0" y="4.8" text-anchor="middle" letter-spacing="0.9" font-family="Liberation Serif" font-size="14.5" font-weight="normal" fill="#1a1a1a" stroke="#1a1a1a" stroke-width="0.4">L1</text>
<line x1="553.6" y1="67.0" x2="553.6" y2="80.0" stroke="#3c3c3c" stroke-width="0.85"/>
<line x1="642.2" y1="67.0" x2="642.2" y2="80.0" stroke="#3c3c3c" stroke-width="0.85"/>
<line x1="553.6" y1="69.5" x2="642.2" y2="69.5" stroke="#3c3c3c" stroke-width="0.85"/>
<path d="M553.60,69.50 L563.10,67.75 A1.75,1.75 0 0 1 563.10,71.25 Z" fill="#151515"/>
<path d="M598.50,69.50 L589.00,71.25 A1.75,1.75 0 0 1 589.00,67.75 Z" fill="#151515"/>
<path d="M598.50,69.50 L608.00,67.75 A1.75,1.75 0 0 1 608.00,71.25 Z" fill="#151515"/>
<path d="M642.20,69.50 L632.70,71.25 A1.75,1.75 0 0 1 632.70,67.75 Z" fill="#151515"/>
<text transform="translate(575.6,60.6) rotate(0) scale(0.78,1)" x="0" y="4.8" text-anchor="middle" letter-spacing="0.9" font-family="Liberation Serif" font-size="14.5" font-weight="normal" fill="#1a1a1a" stroke="#1a1a1a" stroke-width="0.4">H1</text>
<text transform="translate(619.7,60.6) rotate(0) scale(0.78,1)" x="0" y="4.8" text-anchor="middle" letter-spacing="0.9" font-family="Liberation Serif" font-size="14.5" font-weight="normal" fill="#1a1a1a" stroke="#1a1a1a" stroke-width="0.4">H1</text>
<line x1="424.6" y1="80.2" x2="553.0" y2="80.2" stroke="#3c3c3c" stroke-width="0.85"/>
<line x1="424.6" y1="226.4" x2="555.0" y2="226.4" stroke="#3c3c3c" stroke-width="0.85"/>
<line x1="429.9" y1="80.2" x2="429.9" y2="226.4" stroke="#3c3c3c" stroke-width="0.85"/>
<path d="M429.90,80.20 L431.65,89.70 A1.75,1.75 0 0 1 428.15,89.70 Z" fill="#151515"/>
<path d="M429.90,226.40 L428.15,216.90 A1.75,1.75 0 0 1 431.65,216.90 Z" fill="#151515"/>
<text transform="translate(420.2,156.8) rotate(-90) scale(0.78,1)" x="0" y="4.8" text-anchor="middle" letter-spacing="0.9" font-family="Liberation Serif" font-size="14.5" font-weight="normal" fill="#1a1a1a" stroke="#1a1a1a" stroke-width="0.4">B</text>
<line x1="464.0" y1="80.2" x2="464.0" y2="226.4" stroke="#3c3c3c" stroke-width="0.85"/>
<path d="M464.00,80.20 L465.75,89.70 A1.75,1.75 0 0 1 462.25,89.70 Z" fill="#151515"/>
<path d="M464.00,165.60 L462.25,156.10 A1.75,1.75 0 0 1 465.75,156.10 Z" fill="#151515"/>
<path d="M464.00,165.60 L465.75,175.10 A1.75,1.75 0 0 1 462.25,175.10 Z" fill="#151515"/>
<path d="M464.00,226.40 L462.25,216.90 A1.75,1.75 0 0 1 465.75,216.90 Z" fill="#151515"/>
<text transform="translate(453.9,130.5) rotate(-90) scale(0.78,1)" x="0" y="4.8" text-anchor="middle" letter-spacing="0.9" font-family="Liberation Serif" font-size="14.5" font-weight="normal" fill="#1a1a1a" stroke="#1a1a1a" stroke-width="0.4">N</text>
<text transform="translate(453.9,190.3) rotate(-90) scale(0.62,1)" x="0" y="4.8" text-anchor="middle" letter-spacing="0.9" font-family="Liberation Serif" font-size="14.5" font-weight="normal" fill="#1a1a1a" stroke="#1a1a1a" stroke-width="0.4">M</text>
<line x1="493.3" y1="100.1" x2="558.0" y2="100.1" stroke="#3c3c3c" stroke-width="0.85"/>
<line x1="493.3" y1="206.0" x2="556.0" y2="206.0" stroke="#3c3c3c" stroke-width="0.85"/>
<line x1="496.8" y1="100.1" x2="496.8" y2="206.0" stroke="#3c3c3c" stroke-width="0.85"/>
<path d="M496.80,100.10 L498.55,109.60 A1.75,1.75 0 0 1 495.05,109.60 Z" fill="#151515"/>
<path d="M496.80,165.60 L495.05,156.10 A1.75,1.75 0 0 1 498.55,156.10 Z" fill="#151515"/>
<path d="M496.80,165.60 L498.55,175.10 A1.75,1.75 0 0 1 495.05,175.10 Z" fill="#151515"/>
<path d="M496.80,206.00 L495.05,196.50 A1.75,1.75 0 0 1 498.55,196.50 Z" fill="#151515"/>
<text transform="translate(484.6,132.9) rotate(-90) scale(0.78,1)" x="0" y="4.8" text-anchor="middle" letter-spacing="0.9" font-family="Liberation Serif" font-size="14.5" font-weight="normal" fill="#1a1a1a" stroke="#1a1a1a" stroke-width="0.4">Q</text>
<text transform="translate(484.6,184.9) rotate(-90) scale(0.78,1)" x="0" y="4.8" text-anchor="middle" letter-spacing="0.9" font-family="Liberation Serif" font-size="14.5" font-weight="normal" fill="#1a1a1a" stroke="#1a1a1a" stroke-width="0.4">V</text>
<line x1="528.9" y1="77.8" x2="528.9" y2="138.5" stroke="#3c3c3c" stroke-width="0.85"/>
<path d="M528.90,96.50 L527.15,87.00 A1.75,1.75 0 0 1 530.65,87.00 Z" fill="#151515"/>
<path d="M528.90,104.90 L530.65,114.40 A1.75,1.75 0 0 1 527.15,114.40 Z" fill="#151515"/>
<line x1="525.7" y1="96.5" x2="558.0" y2="96.5" stroke="#3c3c3c" stroke-width="0.85"/>
<line x1="525.7" y1="104.9" x2="558.0" y2="104.9" stroke="#3c3c3c" stroke-width="0.85"/>
<text transform="translate(520.5,132.0) rotate(-90) scale(0.78,1)" x="0" y="4.8" text-anchor="middle" letter-spacing="0.9" font-family="Liberation Serif" font-size="14.5" font-weight="normal" fill="#1a1a1a" stroke="#1a1a1a" stroke-width="0.4">R</text>
<line x1="712.8" y1="114.5" x2="712.8" y2="165.3" stroke="#3c3c3c" stroke-width="0.85"/>
<path d="M712.80,114.50 L714.55,124.00 A1.75,1.75 0 0 1 711.05,124.00 Z" fill="#151515"/>
<path d="M712.80,165.30 L711.05,155.80 A1.75,1.75 0 0 1 714.55,155.80 Z" fill="#151515"/>
<text transform="translate(702.7,142.5) rotate(-90) scale(0.78,1)" x="0" y="4.8" text-anchor="middle" letter-spacing="0.9" font-family="Liberation Serif" font-size="14.5" font-weight="normal" fill="#1a1a1a" stroke="#1a1a1a" stroke-width="0.4">O</text>
<line x1="646.8" y1="129.1" x2="682.6" y2="129.1" stroke="#3c3c3c" stroke-width="0.85"/>
<line x1="646.0" y1="200.7" x2="682.6" y2="200.7" stroke="#3c3c3c" stroke-width="0.85"/>
<line x1="679.2" y1="129.1" x2="679.2" y2="200.7" stroke="#3c3c3c" stroke-width="0.85"/>
<path d="M679.20,129.10 L680.95,138.60 A1.75,1.75 0 0 1 677.45,138.60 Z" fill="#151515"/>
<path d="M679.20,200.70 L677.45,191.20 A1.75,1.75 0 0 1 680.95,191.20 Z" fill="#151515"/>
<text transform="translate(669.8,165.3) rotate(-90) scale(0.78,1)" x="0" y="4.8" text-anchor="middle" letter-spacing="0.9" font-family="Liberation Serif" font-size="14.5" font-weight="normal" fill="#1a1a1a" stroke="#1a1a1a" stroke-width="0.4">E</text>
<line x1="574.4" y1="222.0" x2="574.4" y2="256.0" stroke="#3c3c3c" stroke-width="0.85"/>
<line x1="624.3" y1="222.0" x2="624.3" y2="256.0" stroke="#3c3c3c" stroke-width="0.85"/>
<line x1="574.4" y1="254.6" x2="624.3" y2="254.6" stroke="#3c3c3c" stroke-width="0.85"/>
<path d="M574.40,254.60 L583.90,252.85 A1.75,1.75 0 0 1 583.90,256.35 Z" fill="#151515"/>
<path d="M624.30,254.60 L614.80,256.35 A1.75,1.75 0 0 1 614.80,252.85 Z" fill="#151515"/>
<text transform="translate(600.2,245.0) rotate(0) scale(0.78,1)" x="0" y="4.8" text-anchor="middle" letter-spacing="0.9" font-family="Liberation Serif" font-size="14.5" font-weight="normal" fill="#1a1a1a" stroke="#1a1a1a" stroke-width="0.4">F</text>
<line x1="563.6" y1="210.0" x2="563.6" y2="284.0" stroke="#3c3c3c" stroke-width="0.85"/>
<line x1="635.0" y1="210.0" x2="635.0" y2="284.0" stroke="#3c3c3c" stroke-width="0.85"/>
<line x1="563.6" y1="282.1" x2="635.0" y2="282.1" stroke="#3c3c3c" stroke-width="0.85"/>
<path d="M563.60,282.10 L573.10,280.35 A1.75,1.75 0 0 1 573.10,283.85 Z" fill="#151515"/>
<path d="M635.00,282.10 L625.50,283.85 A1.75,1.75 0 0 1 625.50,280.35 Z" fill="#151515"/>
<text transform="translate(600.0,272.6) rotate(0) scale(0.78,1)" x="0" y="4.8" text-anchor="middle" letter-spacing="0.9" font-family="Liberation Serif" font-size="14.5" font-weight="normal" fill="#1a1a1a" stroke="#1a1a1a" stroke-width="0.4">C1</text>
<line x1="556.4" y1="226.0" x2="556.4" y2="311.0" stroke="#3c3c3c" stroke-width="0.85"/>
<line x1="643.3" y1="226.0" x2="643.3" y2="311.0" stroke="#3c3c3c" stroke-width="0.85"/>
<line x1="556.4" y1="309.3" x2="643.3" y2="309.3" stroke="#3c3c3c" stroke-width="0.85"/>
<path d="M556.40,309.30 L565.90,307.55 A1.75,1.75 0 0 1 565.90,311.05 Z" fill="#151515"/>
<path d="M643.30,309.30 L633.80,311.05 A1.75,1.75 0 0 1 633.80,307.55 Z" fill="#151515"/>
<text transform="translate(600.0,300.0) rotate(0) scale(0.78,1)" x="0" y="4.8" text-anchor="middle" letter-spacing="0.9" font-family="Liberation Serif" font-size="14.5" font-weight="normal" fill="#1a1a1a" stroke="#1a1a1a" stroke-width="0.4">G</text>
<polyline points="354.0,407.3 354.0,376.7 372.3,376.7 372.3,378.6 422.5,378.6 422.5,376.7 440.5,376.7 440.5,407.3" fill="none" stroke="#2a2a2a" stroke-width="1.4400000000000002" stroke-linejoin="miter"/>
<line x1="354.0" y1="407.3" x2="370.6" y2="407.3" stroke="#2a2a2a" stroke-width="1.2"/>
<line x1="425.6" y1="407.3" x2="440.5" y2="407.3" stroke="#2a2a2a" stroke-width="1.2"/>
<path d="M373.0,378.6 L373.0,383.70000000000005 Q375.6,387.70000000000005 381.6,387.70000000000005" fill="none" stroke="#333" stroke-width="0.9"/>
<path d="M422.5,378.6 L422.5,383.70000000000005 Q419.6,387.70000000000005 413.80000000000007,387.70000000000005" fill="none" stroke="#333" stroke-width="0.9"/>
<circle cx="376.1" cy="389.4" r="2.2" fill="none" stroke="#2a2a2a" stroke-width="0.9"/>
<circle cx="419.5" cy="389.4" r="2.2" fill="none" stroke="#2a2a2a" stroke-width="0.9"/>
<circle cx="362.3" cy="396.4" r="4.5" fill="none" stroke="#2a2a2a" stroke-width="1.1"/>
<line x1="356.3" y1="396.4" x2="368.3" y2="396.4" stroke="#333" stroke-width="0.85"/>
<line x1="362.3" y1="390.3" x2="362.3" y2="402.3" stroke="#333" stroke-width="0.85"/>
<circle cx="433.8" cy="396.4" r="4.5" fill="none" stroke="#2a2a2a" stroke-width="1.1"/>
<line x1="427.8" y1="396.4" x2="439.8" y2="396.4" stroke="#333" stroke-width="0.85"/>
<line x1="433.8" y1="390.3" x2="433.8" y2="402.3" stroke="#333" stroke-width="0.85"/>
<path d="M371.9,407.3 L371.9,427.7 A6.4,6.4 0 1 0 382.4,433.8 Q385.1,435.5 389.6,435.5" fill="none" stroke="#2a2a2a" stroke-width="1.1"/>
<path d="M423.9,407.3 L423.9,427.7 A6.4,6.4 0 1 1 413.4,433.8 Q410.7,435.5 406.2,435.5" fill="none" stroke="#2a2a2a" stroke-width="1.1"/>
<circle cx="376.1" cy="432.3" r="2.2" fill="none" stroke="#2a2a2a" stroke-width="0.9"/>
<circle cx="419.5" cy="432.3" r="2.2" fill="none" stroke="#2a2a2a" stroke-width="0.9"/>
<circle cx="397.9" cy="410.7" r="26.0" fill="#fff" stroke="#2a2a2a" stroke-width="1.3"/>
<circle cx="397.9" cy="410.7" r="23.8" fill="none" stroke="#444" stroke-width="0.8"/>
<clipPath id="cp-200296"><circle cx="397.9" cy="410.7" r="21.3"/></clipPath>
<g clip-path="url(#cp-200296)"><line x1="321.7" y1="440.7" x2="381.7" y2="380.7" stroke="#1a1a1a" stroke-width="1.1"/><line x1="321.7" y1="380.7" x2="381.7" y2="440.7" stroke="#1a1a1a" stroke-width="1.1"/><line x1="330.1" y1="440.7" x2="390.1" y2="380.7" stroke="#1a1a1a" stroke-width="1.1"/><line x1="330.1" y1="380.7" x2="390.1" y2="440.7" stroke="#1a1a1a" stroke-width="1.1"/><line x1="338.5" y1="440.7" x2="398.5" y2="380.7" stroke="#1a1a1a" stroke-width="1.1"/><line x1="338.5" y1="380.7" x2="398.5" y2="440.7" stroke="#1a1a1a" stroke-width="1.1"/><line x1="346.9" y1="440.7" x2="406.9" y2="380.7" stroke="#1a1a1a" stroke-width="1.1"/><line x1="346.9" y1="380.7" x2="406.9" y2="440.7" stroke="#1a1a1a" stroke-width="1.1"/><line x1="355.3" y1="440.7" x2="415.3" y2="380.7" stroke="#1a1a1a" stroke-width="1.1"/><line x1="355.3" y1="380.7" x2="415.3" y2="440.7" stroke="#1a1a1a" stroke-width="1.1"/><line x1="363.7" y1="440.7" x2="423.7" y2="380.7" stroke="#1a1a1a" stroke-width="1.1"/><line x1="363.7" y1="380.7" x2="423.7" y2="440.7" stroke="#1a1a1a" stroke-width="1.1"/><line x1="372.1" y1="440.7" x2="432.1" y2="380.7" stroke="#1a1a1a" stroke-width="1.1"/><line x1="372.1" y1="380.7" x2="432.1" y2="440.7" stroke="#1a1a1a" stroke-width="1.1"/><line x1="380.5" y1="440.7" x2="440.5" y2="380.7" stroke="#1a1a1a" stroke-width="1.1"/><line x1="380.5" y1="380.7" x2="440.5" y2="440.7" stroke="#1a1a1a" stroke-width="1.1"/><line x1="388.9" y1="440.7" x2="448.9" y2="380.7" stroke="#1a1a1a" stroke-width="1.1"/><line x1="388.9" y1="380.7" x2="448.9" y2="440.7" stroke="#1a1a1a" stroke-width="1.1"/><line x1="397.3" y1="440.7" x2="457.3" y2="380.7" stroke="#1a1a1a" stroke-width="1.1"/><line x1="397.3" y1="380.7" x2="457.3" y2="440.7" stroke="#1a1a1a" stroke-width="1.1"/><line x1="405.7" y1="440.7" x2="465.7" y2="380.7" stroke="#1a1a1a" stroke-width="1.1"/><line x1="405.7" y1="380.7" x2="465.7" y2="440.7" stroke="#1a1a1a" stroke-width="1.1"/><line x1="414.1" y1="440.7" x2="474.1" y2="380.7" stroke="#1a1a1a" stroke-width="1.1"/><line x1="414.1" y1="380.7" x2="474.1" y2="440.7" stroke="#1a1a1a" stroke-width="1.1"/><line x1="422.5" y1="440.7" x2="482.5" y2="380.7" stroke="#1a1a1a" stroke-width="1.1"/><line x1="422.5" y1="380.7" x2="482.5" y2="440.7" stroke="#1a1a1a" stroke-width="1.1"/></g>
<circle cx="397.9" cy="410.7" r="21.2" fill="none" stroke="#2a2a2a" stroke-width="1.1"/>
<polyline points="382.3,436.5 382.3,443.7 415.8,443.7 415.8,436.5" fill="none" stroke="#333" stroke-width="0.9" stroke-linejoin="miter"/>
<polyline points="379.3,443.7 416.4,443.7 416.4,473.3 379.3,473.3 379.3,464.8 370.6,464.8" fill="none" stroke="#333" stroke-width="0.9" stroke-linejoin="miter"/>
<polyline points="370.6,457.3 379.3,457.3 379.3,443.7" fill="none" stroke="#333" stroke-width="0.9" stroke-linejoin="miter"/>
<polygon points="362.6,458.1 366.9,458.1 366.9,465.9 362.6,465.9" fill="none" stroke="#444" stroke-width="0.8" stroke-linejoin="miter"/>
<polyline points="354.4,407.3 354.4,411.1 353.4,411.1 353.4,425.6 351.5,425.6 351.5,492.3 354.8,496.3" fill="none" stroke="#2a2a2a" stroke-width="1.52" stroke-linejoin="miter"/>
<line x1="354.2" y1="425.3" x2="354.2" y2="492.3" stroke="#444" stroke-width="1.2"/>
<line x1="356.1" y1="407.3" x2="356.1" y2="492.3" stroke="#555" stroke-width="0.85"/>
<line x1="358.8" y1="407.3" x2="358.8" y2="492.3" stroke="#555" stroke-width="0.85"/>
<line x1="369.5" y1="407.3" x2="369.5" y2="492.3" stroke="#555" stroke-width="0.85"/>
<line x1="372.2" y1="407.3" x2="372.2" y2="492.3" stroke="#555" stroke-width="0.85"/>
<line x1="426.6" y1="407.3" x2="426.6" y2="492.3" stroke="#555" stroke-width="0.85"/>
<line x1="428.2" y1="407.3" x2="428.2" y2="492.3" stroke="#555" stroke-width="0.85"/>
<polyline points="428.2,407.3 428.2,449.9 437.5,449.9 437.5,407.3" fill="none" stroke="#444" stroke-width="0.8" stroke-linejoin="miter"/>
<polygon points="427.8,472.3 437.8,472.3 437.8,487.9 427.8,487.9" fill="none" stroke="#444" stroke-width="0.8" stroke-linejoin="miter"/>
<polyline points="354.8,492.3 354.8,522.6 374.1,522.6 374.1,517.7" fill="none" stroke="#2a2a2a" stroke-width="1.4400000000000002" stroke-linejoin="miter"/>
<polyline points="441.6,492.3 441.6,522.6 422.1,522.6 422.1,517.7" fill="none" stroke="#2a2a2a" stroke-width="1.4400000000000002" stroke-linejoin="miter"/>
<line x1="354.8" y1="492.3" x2="373.5" y2="492.3" stroke="#2a2a2a" stroke-width="1.1"/>
<line x1="422.6" y1="492.3" x2="441.6" y2="492.3" stroke="#2a2a2a" stroke-width="1.1"/>
<path d="M354.80000000000007,497.9 L363.30000000000007,497.9 A4.2,4.2 0 0 1 363.30000000000007,506.3 L354.80000000000007,506.3" fill="none" stroke="#333" stroke-width="1.0"/>
<path d="M441.6,497.9 L433.1,497.9 A4.2,4.2 0 0 0 433.1,506.3 L441.6,506.3" fill="none" stroke="#333" stroke-width="1.0"/>
<path d="M376.9,516.3 L376.9,478.8 A1.50,1.50 0 0 1 379.9,478.8 L379.9,516.3" fill="none" stroke="#333" stroke-width="1.0"/>
<path d="M416.3,516.3 L416.3,478.8 A1.50,1.50 0 0 1 419.3,478.8 L419.3,516.3" fill="none" stroke="#333" stroke-width="1.0"/>
<path d="M386.2,473.3 L386.2,518.5 A1.80,1.80 0 0 0 389.8,518.5 L389.8,473.3" fill="none" stroke="#333" stroke-width="1.0"/>
<path d="M406.4,473.3 L406.4,518.5 A1.80,1.80 0 0 0 410.0,518.5 L410.0,473.3" fill="none" stroke="#333" stroke-width="1.0"/>
<line x1="398.6" y1="473.3" x2="398.6" y2="520.3" stroke="#222" stroke-width="1.7"/>
<line x1="382.4" y1="473.3" x2="382.4" y2="509.9" stroke="#444" stroke-width="0.9"/>
<line x1="413.8" y1="473.3" x2="413.8" y2="509.9" stroke="#444" stroke-width="0.9"/>
<polyline points="374.1,517.7 382.5,509.9 386.2,509.9" fill="none" stroke="#2a2a2a" stroke-width="1.2800000000000002" stroke-linejoin="miter"/>
<polyline points="410.0,509.9 413.6,509.9 422.1,517.7" fill="none" stroke="#2a2a2a" stroke-width="1.2800000000000002" stroke-linejoin="miter"/>
<polyline points="389.8,509.9 394.6,509.9 394.6,517.8 402.6,517.8 402.6,509.9 406.4,509.9" fill="none" stroke="#333" stroke-width="1.1" stroke-linejoin="miter"/>
<line x1="394.6" y1="513.9" x2="402.6" y2="513.9" stroke="#3c3c3c" stroke-width="0.85"/>
<line x1="373.5" y1="492.3" x2="373.5" y2="517.7" stroke="#333" stroke-width="0.9"/>
<line x1="422.6" y1="492.3" x2="422.6" y2="517.7" stroke="#333" stroke-width="0.9"/>
<line x1="397.6" y1="337.0" x2="397.6" y2="527.0" stroke="#3c3c3c" stroke-width="0.85" stroke-dasharray="60,3,3,3"/>
<line x1="344.0" y1="462.1" x2="500.0" y2="462.1" stroke="#3c3c3c" stroke-width="0.85"/>
<line x1="346.0" y1="410.8" x2="447.0" y2="410.8" stroke="#3c3c3c" stroke-width="0.85"/>
<polyline points="441.0,512.6 441.0,411.7 450.0,411.7 450.0,416.5 480.3,416.5 480.3,406.2 489.9,406.2 489.9,518.1 480.3,518.1 480.3,508.0 450.0,508.0 450.0,512.6 441.0,512.6" fill="none" stroke="#2a2a2a" stroke-width="1.7" stroke-linejoin="miter"/>
<line x1="443.6" y1="412.0" x2="443.6" y2="512.0" stroke="#666" stroke-width="1.4"/>
<line x1="451.0" y1="416.5" x2="451.0" y2="508.0" stroke="#3c3c3c" stroke-width="0.85"/>
<line x1="480.3" y1="416.5" x2="480.3" y2="508.0" stroke="#333" stroke-width="0.9"/>
<line x1="485.0" y1="428.0" x2="485.0" y2="500.0" stroke="#444" stroke-width="0.9" stroke-dasharray="5,2.5"/>
<line x1="450.0" y1="460.6" x2="480.3" y2="460.6" stroke="#3c3c3c" stroke-width="0.85"/>
<line x1="441.0" y1="423.0" x2="450.0" y2="423.0" stroke="#3c3c3c" stroke-width="0.85"/>
<line x1="441.0" y1="502.4" x2="450.0" y2="502.4" stroke="#3c3c3c" stroke-width="0.85"/>
<line x1="480.3" y1="423.0" x2="489.9" y2="423.0" stroke="#3c3c3c" stroke-width="0.85"/>
<polyline points="485.0,490.0 489.9,490.0" fill="none" stroke="#444" stroke-width="0.8" stroke-linejoin="miter"/>
<polyline points="485.0,436.0 489.9,436.0" fill="none" stroke="#444" stroke-width="0.8" stroke-linejoin="miter"/>
<polygon points="450.4,424.8 458.9,424.8 458.9,438.6 450.4,438.6" fill="none" stroke="#444" stroke-width="0.8" stroke-linejoin="miter"/>
<line x1="458.9" y1="427.5" x2="480.3" y2="427.5" stroke="#3c3c3c" stroke-width="0.85"/>
<polygon points="450.4,486.3 458.9,486.3 458.9,498.7 450.4,498.7" fill="none" stroke="#444" stroke-width="0.8" stroke-linejoin="miter"/>
<line x1="458.9" y1="496.4" x2="480.3" y2="496.4" stroke="#3c3c3c" stroke-width="0.85"/>
<line x1="488.2" y1="336.5" x2="488.2" y2="406.0" stroke="#3c3c3c" stroke-width="0.85"/>
<line x1="484.0" y1="364.0" x2="484.0" y2="406.0" stroke="#3c3c3c" stroke-width="0.85"/>
<line x1="397.6" y1="339.7" x2="488.2" y2="339.7" stroke="#3c3c3c" stroke-width="0.85"/>
<path d="M488.20,339.70 L478.70,341.45 A1.75,1.75 0 0 1 478.70,337.95 Z" fill="#151515"/>
<path d="M397.60,339.70 L407.10,337.95 A1.75,1.75 0 0 1 407.10,341.45 Z" fill="#151515"/>
<text transform="translate(443.0,331.0) rotate(0) scale(0.78,1)" x="0" y="4.8" text-anchor="middle" letter-spacing="0.9" font-family="Liberation Serif" font-size="14.5" font-weight="normal" fill="#1a1a1a" stroke="#1a1a1a" stroke-width="0.4">PA</text>
<line x1="439.9" y1="367.2" x2="508.0" y2="367.2" stroke="#3c3c3c" stroke-width="0.85"/>
<path d="M484.00,367.20 L474.50,368.95 A1.75,1.75 0 0 1 474.50,365.45 Z" fill="#151515"/>
<path d="M488.20,367.20 L497.70,365.45 A1.75,1.75 0 0 1 497.70,368.95 Z" fill="#151515"/>
<text transform="translate(451.0,358.3) rotate(0) scale(0.78,1)" x="0" y="4.8" text-anchor="middle" letter-spacing="0.9" font-family="Liberation Serif" font-size="14.5" font-weight="normal" fill="#1a1a1a" stroke="#1a1a1a" stroke-width="0.4">PC</text>
<line x1="481.2" y1="518.0" x2="481.2" y2="546.0" stroke="#3c3c3c" stroke-width="0.85"/>
<line x1="490.5" y1="518.0" x2="490.5" y2="546.0" stroke="#3c3c3c" stroke-width="0.85"/>
<line x1="435.4" y1="542.9" x2="509.0" y2="542.9" stroke="#3c3c3c" stroke-width="0.85"/>
<path d="M481.20,542.90 L471.70,544.65 A1.75,1.75 0 0 1 471.70,541.15 Z" fill="#151515"/>
<path d="M490.50,542.90 L500.00,541.15 A1.75,1.75 0 0 1 500.00,544.65 Z" fill="#151515"/>
<text transform="translate(446.2,533.5) rotate(0) scale(0.78,1)" x="0" y="4.8" text-anchor="middle" letter-spacing="0.9" font-family="Liberation Serif" font-size="14.5" font-weight="normal" fill="#1a1a1a" stroke="#1a1a1a" stroke-width="0.4">PB</text>
<line x1="120.0" y1="462.1" x2="248.0" y2="462.1" stroke="#3c3c3c" stroke-width="0.85"/>
<line x1="189.9" y1="398.0" x2="189.9" y2="530.0" stroke="#3c3c3c" stroke-width="0.85"/>
<path d="M157.9,406.4 L221.9,406.4 L230.1,414.6 L215.6,429.1 A5.2,5.2 0 0 0 222.9,436.4 L237.4,421.9 L245.6,430.1 L245.6,494.1 L237.4,502.3 L222.9,487.8 A5.2,5.2 0 0 0 215.6,495.1 L230.1,509.6 L221.9,517.8 L157.9,517.8 L149.7,509.6 L164.2,495.1 A5.2,5.2 0 0 0 156.9,487.8 L142.4,502.3 L134.2,494.1 L134.2,430.1 L142.4,421.9 L156.9,436.4 A5.2,5.2 0 0 0 164.2,429.1 L149.7,414.6 L157.9,406.4 Z" fill="none" stroke="#2a2a2a" stroke-width="1.7"/>
<circle cx="189.9" cy="462.1" r="43.0" fill="none" stroke="#333" stroke-width="0.9" stroke-dasharray="22,6"/>
<circle cx="189.9" cy="462.1" r="35.8" fill="none" stroke="#333" stroke-width="1.0"/>
<circle cx="189.9" cy="462.1" r="20.2" fill="none" stroke="#333" stroke-width="1.1"/>
<path d="M186.7,474.2 A12.5,12.5 0 1 1 193.1,474.2 L193.1,476.7 L186.7,476.7 Z" fill="none" stroke="#333" stroke-width="1.1"/>
<line x1="81.5" y1="442.8" x2="170.2" y2="355.9" stroke="#3c3c3c" stroke-width="0.85"/>
<path d="M81.50,442.80 L87.04,434.88 A1.75,1.75 0 0 1 89.49,437.38 Z" fill="#151515"/>
<path d="M170.20,355.90 L164.66,363.82 A1.75,1.75 0 0 1 162.21,361.32 Z" fill="#151515"/>
<line x1="169.0" y1="352.6" x2="222.0" y2="406.3" stroke="#3c3c3c" stroke-width="0.85"/>
<line x1="78.0" y1="439.5" x2="141.6" y2="502.0" stroke="#3c3c3c" stroke-width="0.85"/>
<text transform="translate(117.5,393.8) rotate(-45) scale(0.8,1)" x="0" y="5.1" text-anchor="middle" letter-spacing="0.9" font-family="Liberation Serif" font-size="15.5" font-weight="normal" fill="#1a1a1a" stroke="#1a1a1a" stroke-width="0.4">PP</text>
<path d="M120,462.1 A70,70 0 0 1 140.5,413.4" fill="none" stroke="#333" stroke-width="0.8"/>
<path d="M140.50,413.40 L136.79,419.59 A1.75,1.75 0 0 1 134.31,417.11 Z" fill="#151515"/>
<path d="M120.00,462.10 L118.25,455.10 A1.75,1.75 0 0 1 121.75,455.10 Z" fill="#151515"/>
<line x1="136.0" y1="409.5" x2="152.0" y2="425.5" stroke="#3c3c3c" stroke-width="0.85"/>
<text transform="translate(119.2,429.2) rotate(-55) scale(0.95,1)" x="0" y="5.3" text-anchor="middle" letter-spacing="0.9" font-family="Liberation Serif" font-size="16" font-weight="normal" fill="#1a1a1a" stroke="#1a1a1a" stroke-width="0.4">&#945;</text>
<text transform="translate(123.8,420.4) rotate(-55) scale(0.8,1)" x="0" y="4.6" text-anchor="middle" letter-spacing="0.9" font-family="Liberation Serif" font-size="14" font-weight="normal" fill="#1a1a1a" stroke="#1a1a1a" stroke-width="0.4">1</text>
<line x1="92.3" y1="493.6" x2="143.4" y2="542.8" stroke="#3c3c3c" stroke-width="0.85"/>
<line x1="142.5" y1="504.0" x2="120.7" y2="522.9" stroke="#3c3c3c" stroke-width="0.85"/>
<line x1="152.9" y1="509.7" x2="129.2" y2="531.4" stroke="#3c3c3c" stroke-width="0.85"/>
<path d="M122.60,523.90 L116.41,520.19 A1.75,1.75 0 0 1 118.89,517.71 Z" fill="#151515"/>
<path d="M130.60,532.00 L136.79,535.71 A1.75,1.75 0 0 1 134.31,538.19 Z" fill="#151515"/>
<text transform="translate(107.5,494.5) rotate(45) scale(0.8,1)" x="0" y="5.1" text-anchor="middle" letter-spacing="0.9" font-family="Liberation Serif" font-size="15.5" font-weight="normal" fill="#1a1a1a" stroke="#1a1a1a" stroke-width="0.4">PO</text>
<line x1="200.7" y1="418.9" x2="272.7" y2="418.9" stroke="#3c3c3c" stroke-width="0.85"/>
<line x1="223.6" y1="505.6" x2="272.7" y2="505.6" stroke="#3c3c3c" stroke-width="0.85"/>
<line x1="269.4" y1="418.9" x2="269.4" y2="505.6" stroke="#3c3c3c" stroke-width="0.85"/>
<path d="M269.40,418.90 L271.15,428.40 A1.75,1.75 0 0 1 267.65,428.40 Z" fill="#151515"/>
<path d="M269.40,505.60 L267.65,496.10 A1.75,1.75 0 0 1 271.15,496.10 Z" fill="#151515"/>
<text transform="translate(260.1,462.3) rotate(-90) scale(0.72,1)" x="0" y="4.8" text-anchor="middle" letter-spacing="0.9" font-family="Liberation Serif" font-size="14.5" font-weight="normal" fill="#1a1a1a" stroke="#1a1a1a" stroke-width="0.4">PM</text>
<line x1="226.9" y1="406.3" x2="297.2" y2="406.3" stroke="#3c3c3c" stroke-width="0.85"/>
<line x1="226.9" y1="518.7" x2="297.2" y2="518.7" stroke="#3c3c3c" stroke-width="0.85"/>
<line x1="294.0" y1="406.3" x2="294.0" y2="518.7" stroke="#3c3c3c" stroke-width="0.85"/>
<path d="M294.00,406.30 L295.75,415.80 A1.75,1.75 0 0 1 292.25,415.80 Z" fill="#151515"/>
<path d="M294.00,518.70 L292.25,509.20 A1.75,1.75 0 0 1 295.75,509.20 Z" fill="#151515"/>
<text transform="translate(282.4,462.0) rotate(-90) scale(0.72,1)" x="0" y="4.8" text-anchor="middle" letter-spacing="0.9" font-family="Liberation Serif" font-size="14.5" font-weight="normal" fill="#1a1a1a" stroke="#1a1a1a" stroke-width="0.4">PQ</text>
<line x1="154.8" y1="490.0" x2="154.8" y2="543.0" stroke="#3c3c3c" stroke-width="0.85"/>
<line x1="226.9" y1="490.0" x2="226.9" y2="543.0" stroke="#3c3c3c" stroke-width="0.85"/>
<line x1="154.8" y1="540.9" x2="226.9" y2="540.9" stroke="#3c3c3c" stroke-width="0.85"/>
<path d="M154.80,540.90 L164.30,539.15 A1.75,1.75 0 0 1 164.30,542.65 Z" fill="#151515"/>
<path d="M226.90,540.90 L217.40,542.65 A1.75,1.75 0 0 1 217.40,539.15 Z" fill="#151515"/>
<text transform="translate(190.3,531.5) rotate(0) scale(0.78,1)" x="0" y="5.0" text-anchor="middle" letter-spacing="0.9" font-family="Liberation Serif" font-size="15" font-weight="normal" fill="#1a1a1a" stroke="#1a1a1a" stroke-width="0.4">PN</text>
<line x1="553.6" y1="410.0" x2="553.6" y2="509.0" stroke="#3c3c3c" stroke-width="0.85"/>
<line x1="574.1" y1="410.0" x2="574.1" y2="440.0" stroke="#3c3c3c" stroke-width="0.85"/>
<line x1="534.5" y1="412.4" x2="592.7" y2="412.4" stroke="#3c3c3c" stroke-width="0.85"/>
<path d="M553.60,412.40 L544.10,414.15 A1.75,1.75 0 0 1 544.10,410.65 Z" fill="#151515"/>
<path d="M574.10,412.40 L583.60,410.65 A1.75,1.75 0 0 1 583.60,414.15 Z" fill="#151515"/>
<text transform="translate(563.6,404.5) rotate(0) scale(0.78,1)" x="0" y="4.8" text-anchor="middle" letter-spacing="0.9" font-family="Liberation Serif" font-size="14.5" font-weight="normal" fill="#1a1a1a" stroke="#1a1a1a" stroke-width="0.4">S</text>
<line x1="596.0" y1="428.0" x2="596.0" y2="447.0" stroke="#3c3c3c" stroke-width="0.85"/>
<line x1="617.8" y1="428.0" x2="617.8" y2="509.0" stroke="#3c3c3c" stroke-width="0.85"/>
<line x1="577.0" y1="430.3" x2="629.6" y2="430.3" stroke="#3c3c3c" stroke-width="0.85"/>
<path d="M596.00,430.30 L586.50,432.05 A1.75,1.75 0 0 1 586.50,428.55 Z" fill="#151515"/>
<path d="M617.80,430.30 L627.30,428.55 A1.75,1.75 0 0 1 627.30,432.05 Z" fill="#151515"/>
<text transform="translate(607.2,420.7) rotate(0) scale(0.78,1)" x="0" y="4.8" text-anchor="middle" letter-spacing="0.9" font-family="Liberation Serif" font-size="14.5" font-weight="normal" fill="#1a1a1a" stroke="#1a1a1a" stroke-width="0.4">S</text>
<line x1="553.6" y1="507.4" x2="617.8" y2="507.4" stroke="#3c3c3c" stroke-width="0.85"/>
<path d="M553.60,507.40 L563.10,505.65 A1.75,1.75 0 0 1 563.10,509.15 Z" fill="#151515"/>
<path d="M617.80,507.40 L608.30,509.15 A1.75,1.75 0 0 1 608.30,505.65 Z" fill="#151515"/>
<text transform="translate(586.0,498.5) rotate(0) scale(0.78,1)" x="0" y="4.8" text-anchor="middle" letter-spacing="0.9" font-family="Liberation Serif" font-size="14.5" font-weight="normal" fill="#1a1a1a" stroke="#1a1a1a" stroke-width="0.4">L1</text>
<line x1="537.4" y1="435.9" x2="537.4" y2="488.4" stroke="#3c3c3c" stroke-width="0.85"/>
<path d="M537.40,454.90 L535.65,445.40 A1.75,1.75 0 0 1 539.15,445.40 Z" fill="#151515"/>
<path d="M537.40,469.40 L539.15,478.90 A1.75,1.75 0 0 1 535.65,478.90 Z" fill="#151515"/>
<line x1="534.0" y1="454.9" x2="553.6" y2="454.9" stroke="#3c3c3c" stroke-width="0.85"/>
<line x1="534.0" y1="469.4" x2="553.6" y2="469.4" stroke="#3c3c3c" stroke-width="0.85"/>
<text transform="translate(527.8,462.7) rotate(-90) scale(0.78,1)" x="0" y="4.8" text-anchor="middle" letter-spacing="0.9" font-family="Liberation Serif" font-size="14.5" font-weight="normal" fill="#1a1a1a" stroke="#1a1a1a" stroke-width="0.4">D</text>
<clipPath id="cpc"><path d="M553.8,449.8 L569.4,449.8 L569.4,447.5 L578.4,447.5 L578.4,442.5 Q579,439.5 582,439.3 L586,439.8 L589,438.8 L592.6,438.3 L592.6,447.5 L601,447.5 L601,449.8 L617.6,449.8 L617.6,454.3 L553.8,454.3 Z M553.8,470.6 L617.6,470.6 L617.6,476 L601,476 L601,477.8 L592.6,477.8 L592.6,486.6 L578.4,486.6 L578.4,477.8 L569.4,477.8 L569.4,476 L553.8,476 Z"/></clipPath>
<g clip-path="url(#cpc)"><line x1="503.5" y1="425" x2="568.5" y2="490" stroke="#1e1e1e" stroke-width="1.05"/><line x1="506.8" y1="425" x2="571.8" y2="490" stroke="#1e1e1e" stroke-width="1.05"/><line x1="510.1" y1="425" x2="575.1" y2="490" stroke="#1e1e1e" stroke-width="1.05"/><line x1="513.4" y1="425" x2="578.4" y2="490" stroke="#1e1e1e" stroke-width="1.05"/><line x1="516.7" y1="425" x2="581.7" y2="490" stroke="#1e1e1e" stroke-width="1.05"/><line x1="520.0" y1="425" x2="585.0" y2="490" stroke="#1e1e1e" stroke-width="1.05"/><line x1="523.3" y1="425" x2="588.3" y2="490" stroke="#1e1e1e" stroke-width="1.05"/><line x1="526.6" y1="425" x2="591.6" y2="490" stroke="#1e1e1e" stroke-width="1.05"/><line x1="529.9" y1="425" x2="594.9" y2="490" stroke="#1e1e1e" stroke-width="1.05"/><line x1="533.2" y1="425" x2="598.2" y2="490" stroke="#1e1e1e" stroke-width="1.05"/><line x1="536.5" y1="425" x2="601.5" y2="490" stroke="#1e1e1e" stroke-width="1.05"/><line x1="539.8" y1="425" x2="604.8" y2="490" stroke="#1e1e1e" stroke-width="1.05"/><line x1="543.1" y1="425" x2="608.1" y2="490" stroke="#1e1e1e" stroke-width="1.05"/><line x1="546.4" y1="425" x2="611.4" y2="490" stroke="#1e1e1e" stroke-width="1.05"/><line x1="549.7" y1="425" x2="614.7" y2="490" stroke="#1e1e1e" stroke-width="1.05"/><line x1="553.0" y1="425" x2="618.0" y2="490" stroke="#1e1e1e" stroke-width="1.05"/><line x1="556.3" y1="425" x2="621.3" y2="490" stroke="#1e1e1e" stroke-width="1.05"/><line x1="559.6" y1="425" x2="624.6" y2="490" stroke="#1e1e1e" stroke-width="1.05"/><line x1="562.9" y1="425" x2="627.9" y2="490" stroke="#1e1e1e" stroke-width="1.05"/><line x1="566.2" y1="425" x2="631.2" y2="490" stroke="#1e1e1e" stroke-width="1.05"/><line x1="569.5" y1="425" x2="634.5" y2="490" stroke="#1e1e1e" stroke-width="1.05"/><line x1="572.8" y1="425" x2="637.8" y2="490" stroke="#1e1e1e" stroke-width="1.05"/><line x1="576.1" y1="425" x2="641.1" y2="490" stroke="#1e1e1e" stroke-width="1.05"/><line x1="579.4" y1="425" x2="644.4" y2="490" stroke="#1e1e1e" stroke-width="1.05"/><line x1="582.7" y1="425" x2="647.7" y2="490" stroke="#1e1e1e" stroke-width="1.05"/><line x1="586.0" y1="425" x2="651.0" y2="490" stroke="#1e1e1e" stroke-width="1.05"/><line x1="589.3" y1="425" x2="654.3" y2="490" stroke="#1e1e1e" stroke-width="1.05"/><line x1="592.6" y1="425" x2="657.6" y2="490" stroke="#1e1e1e" stroke-width="1.05"/><line x1="595.9" y1="425" x2="660.9" y2="490" stroke="#1e1e1e" stroke-width="1.05"/><line x1="599.2" y1="425" x2="664.2" y2="490" stroke="#1e1e1e" stroke-width="1.05"/><line x1="602.5" y1="425" x2="667.5" y2="490" stroke="#1e1e1e" stroke-width="1.05"/><line x1="605.8" y1="425" x2="670.8" y2="490" stroke="#1e1e1e" stroke-width="1.05"/><line x1="609.1" y1="425" x2="674.1" y2="490" stroke="#1e1e1e" stroke-width="1.05"/><line x1="612.4" y1="425" x2="677.4" y2="490" stroke="#1e1e1e" stroke-width="1.05"/><line x1="615.7" y1="425" x2="680.7" y2="490" stroke="#1e1e1e" stroke-width="1.05"/><line x1="619.0" y1="425" x2="684.0" y2="490" stroke="#1e1e1e" stroke-width="1.05"/><line x1="622.3" y1="425" x2="687.3" y2="490" stroke="#1e1e1e" stroke-width="1.05"/><line x1="625.6" y1="425" x2="690.6" y2="490" stroke="#1e1e1e" stroke-width="1.05"/><line x1="628.9" y1="425" x2="693.9" y2="490" stroke="#1e1e1e" stroke-width="1.05"/><line x1="632.2" y1="425" x2="697.2" y2="490" stroke="#1e1e1e" stroke-width="1.05"/></g>
<path d="M553.8,449.8 L569.4,449.8 L569.4,447.5 L578.4,447.5 L578.4,442.5 Q579,439.5 582,439.3 L586,439.8 L589,438.8 L592.6,438.3 L592.6,447.5 L601,447.5 L601,449.8 L617.6,449.8 L617.6,454.3 L553.8,454.3 Z" fill="none" stroke="#2a2a2a" stroke-width="1.3"/>
<path d="M553.8,470.6 L617.6,470.6 L617.6,476 L601,476 L601,477.8 L592.6,477.8 L592.6,486.6 L578.4,486.6 L578.4,477.8 L569.4,477.8 L569.4,476 L553.8,476 Z" fill="none" stroke="#2a2a2a" stroke-width="1.3"/>
<line x1="553.8" y1="455.6" x2="617.6" y2="455.6" stroke="#777" stroke-width="0.85"/>
<line x1="553.8" y1="468.0" x2="617.6" y2="468.0" stroke="#777" stroke-width="0.85"/>
<line x1="573.7" y1="454.3" x2="573.7" y2="470.6" stroke="#3c3c3c" stroke-width="0.9"/>
<line x1="596.8" y1="454.3" x2="596.8" y2="470.6" stroke="#3c3c3c" stroke-width="0.9"/>
<line x1="550.0" y1="462.5" x2="621.0" y2="462.5" stroke="#333" stroke-width="1.1"/>
<line x1="585.4" y1="436.0" x2="585.4" y2="490.0" stroke="#333" stroke-width="0.85"/>
<line x1="647.7" y1="421.7" x2="705.4" y2="421.7" stroke="#3c3c3c" stroke-width="0.85"/>
<path d="M682.20,421.70 L672.70,423.45 A1.75,1.75 0 0 1 672.70,419.95 Z" fill="#151515"/>
<path d="M686.50,421.70 L696.00,419.95 A1.75,1.75 0 0 1 696.00,423.45 Z" fill="#151515"/>
<line x1="682.2" y1="417.4" x2="682.2" y2="452.0" stroke="#3c3c3c" stroke-width="0.85"/>
<line x1="686.5" y1="417.4" x2="686.5" y2="452.0" stroke="#3c3c3c" stroke-width="0.85"/>
<text transform="translate(655.0,413.0) rotate(0) scale(0.78,1)" x="0" y="4.8" text-anchor="middle" letter-spacing="0.9" font-family="Liberation Serif" font-size="14.5" font-weight="normal" fill="#1a1a1a" stroke="#1a1a1a" stroke-width="0.4">b</text>
<circle cx="685.1" cy="462.1" r="7.3" fill="none" stroke="#2a2a2a" stroke-width="1.3"/>
<line x1="675.0" y1="462.1" x2="695.0" y2="462.1" stroke="#3c3c3c" stroke-width="0.85"/>
<line x1="685.1" y1="452.0" x2="685.1" y2="472.0" stroke="#3c3c3c" stroke-width="0.85"/>
<line x1="661.0" y1="434.6" x2="661.0" y2="488.8" stroke="#3c3c3c" stroke-width="0.85"/>
<path d="M661.00,453.50 L659.25,444.00 A1.75,1.75 0 0 1 662.75,444.00 Z" fill="#151515"/>
<path d="M661.00,469.90 L662.75,479.40 A1.75,1.75 0 0 1 659.25,479.40 Z" fill="#151515"/>
<line x1="658.0" y1="453.5" x2="685.0" y2="453.5" stroke="#3c3c3c" stroke-width="0.85"/>
<line x1="658.0" y1="469.9" x2="685.0" y2="469.9" stroke="#3c3c3c" stroke-width="0.85"/>
<text transform="translate(652.9,462.0) rotate(-90) scale(0.78,1)" x="0" y="4.8" text-anchor="middle" letter-spacing="0.9" font-family="Liberation Serif" font-size="14.5" font-weight="normal" fill="#1a1a1a" stroke="#1a1a1a" stroke-width="0.4">t</text>
<rect x="1" y="1" width="776" height="579" fill="none" stroke="#3b2a14" stroke-width="2.2"/>
</svg>
</body></html>
